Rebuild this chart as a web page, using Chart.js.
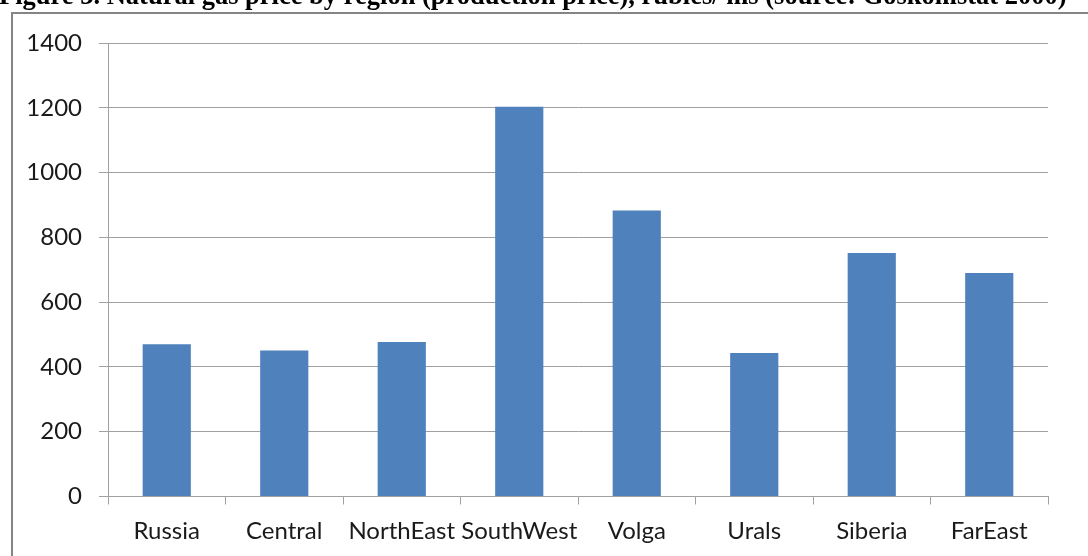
<!DOCTYPE html>
<html>
<head>
<meta charset="utf-8">
<script src="https://cdn.jsdelivr.net/npm/chart.js@4/dist/chart.umd.min.js"></script>
<style>
  html, body { margin: 0; padding: 0; background: #fff; overflow: hidden; }
  #wrap { position: relative; width: 1088px; height: 556px; }
</style>
</head>
<body>
<div id="wrap"><canvas id="gas" width="1088" height="556"></canvas></div>
<script>
// regions and production prices, rubles
const regions = ["Russia", "Central", "NorthEast", "SouthWest", "Volga", "Urals", "Siberia", "FarEast"];
const prices = [470, 451, 477, 1203, 883, 443, 752, 690];
const figureTitle = "Figure 3. Natural gas price by region (production price), rubles/ ms (source: Goskomstat 2000)";

const gridGrey = "#a0a0a0";
const labelFont = { family: "Lato, 'Open Sans', sans-serif", size: 24 };

// heading above the frame plus the grey frame line around the chart
const framePlugin = {
    id: "frame",
    beforeDraw(chart) {
        const ctx = chart.ctx;
        ctx.save();
        ctx.fillStyle = "#fff";
        ctx.fillRect(0, 0, chart.width, chart.height);
        ctx.fillStyle = "#000";
        ctx.font = "bold 26.5px 'Liberation Serif', 'Times New Roman', serif";
        ctx.textBaseline = "alphabetic";
        ctx.textAlign = "left";
        ctx.fillText(figureTitle, -1, 4);
        ctx.strokeStyle = "#858585";
        ctx.lineWidth = 2;
        ctx.beginPath();
        ctx.moveTo(12, chart.height + 2);
        ctx.lineTo(12, 13);
        ctx.lineTo(chart.width + 2, 13);
        ctx.stroke();
        ctx.restore();
    }
};

let myChart = new Chart(document.getElementById("gas"), {
    type: "bar",
    plugins: [framePlugin],
    data: {
        labels: regions,
        datasets: [
            {
                data: prices,
                backgroundColor: "#4f81bd",
                borderWidth: 0,
                barPercentage: 0.41,
                categoryPercentage: 1,
            },
        ],
    },
    options: {
        responsive: false,
        animation: false,
        layout: { padding: { left: 0, top: 43, right: 40, bottom: 0 } },
        plugins: {
            legend: { display: false },
            tooltip: { enabled: false },
        },
        scales: {
            x: {
                afterFit: (scale) => { scale.height = 59.5; },
                border: { color: gridGrey, width: 1 },
                grid: {
                    offset: true,
                    drawOnChartArea: false,
                    drawTicks: true,
                    tickLength: 8,
                    color: gridGrey,
                },
                ticks: {
                    color: "#1a1a1a",
                    font: labelFont,
                    padding: 12,
                    maxRotation: 0,
                    autoSkip: false,
                },
            },
            y: {
                min: 0,
                max: 1400,
                afterFit: (scale) => { scale.width = 108; },
                border: { color: gridGrey, width: 1 },
                grid: { color: gridGrey, tickLength: 9, drawTicks: true },
                ticks: {
                    stepSize: 200,
                    color: "#1a1a1a",
                    font: labelFont,
                    padding: 17,
                    callback: (value) => String(value),
                },
            },
        },
    },
});
</script>
</body>
</html>
